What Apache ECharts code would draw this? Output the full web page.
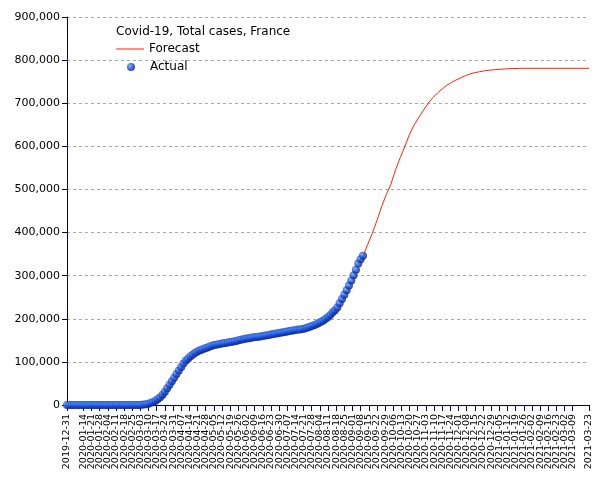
<!DOCTYPE html>
<html><head><meta charset="utf-8">
<script src="https://cdn.jsdelivr.net/npm/echarts@6/dist/echarts.min.js"></script>
<style>html,body{margin:0;padding:0;background:#fff}#c{width:605px;height:480px}</style>
</head><body><div id="c"></div>
<script>
// Weekly tick labels (day 0 = 2019-12-31, one tick every 7 days)
const tickLabels = ["2019-12-31","2020-01-07","2020-01-14","2020-01-21","2020-01-28","2020-02-04","2020-02-11","2020-02-18","2020-02-25","2020-03-03","2020-03-10","2020-03-17","2020-03-24","2020-03-31","2020-04-07","2020-04-14","2020-04-21","2020-04-28","2020-05-05","2020-05-12","2020-05-19","2020-05-26","2020-06-02","2020-06-09","2020-06-16","2020-06-23","2020-06-30","2020-07-07","2020-07-14","2020-07-21","2020-07-28","2020-08-04","2020-08-11","2020-08-18","2020-08-25","2020-09-01","2020-09-08","2020-09-15","2020-09-22","2020-09-29","2020-10-06","2020-10-13","2020-10-20","2020-10-27","2020-11-03","2020-11-10","2020-11-17","2020-11-24","2020-12-01","2020-12-08","2020-12-15","2020-12-22","2020-12-29","2021-01-05","2021-01-12","2021-01-19","2021-01-26","2021-02-02","2021-02-09","2021-02-16","2021-02-23","2021-03-02","2021-03-09","2021-03-16","2021-03-23"];

// Actual total cases (thousands), one value every 2 days starting 2019-12-31
const actualStepDays = 2;
const actualK = [
0,0,0,0,0,0,0,0,0,0,0,0,0,0,0,0,0,0,0,0,0,0,0,0,0,0,0,0,
0,0.1,0.1,0.2,0.4,0.9,1.6,3,5,7,10,14,18,24,31,39,47,55,63,72,80,88,96,103,108,113,117,121,124,127,129,131,133,135,137,139,140,141,142,143,144,145,146,147,148,149,151,152,153,154,155,156,157,158,158.5,159,160,161,162,163,164,165,166,167,168,169,170,171,172,173,174,175,175,176,177.5,179,181,183,185,187.5,190,193,196,200,204,209,215,220,226,236,246,256,266,277,289,301,314,328,338,346
];

// Forecast (days since 2019-12-31, total cases in thousands)
const forecastDays = [250,254,258,262,266,270,274,278,282,286,290,294,298,302,306,310,314,318,322,326,330,334,338,342,346,350,354,358,362,366,370,376,382,390,400,420,448];
const forecastK    = [328,344,372,398,428,460,488,512,546,574,600,628,650,667,684,700,713,724,733,742,748,754,759,764,768,771,773,775,776.5,777.5,778.5,779.5,780.3,781,781,781,781];

const yTicks = [0,100000,200000,300000,400000,500000,600000,700000,800000,900000];

const actualData = actualK.map((v,i)=>[i*actualStepDays, v*1000]);
const forecastData = forecastDays.map((d,i)=>[d, forecastK[i]*1000]);

const FONT = 'DejaVu Sans';
const navy = '#000060';
const dotColor = {type:'radial', x:0.35, y:0.35, r:0.7,
  colorStops:[{offset:0,color:'#6aa4ff'},{offset:0.45,color:'#1f55e0'},{offset:1,color:'#041a70'}]};
const legendText = {fontFamily:FONT, fontSize:12, color:'#000'};
const chart = echarts.init(document.getElementById('c'), null, {renderer:'canvas'});
chart.setOption({
  animation:false,
  backgroundColor:'#fff',
  textStyle:{fontFamily:FONT},
  title:{text:'Covid-19, Total cases, France', left:111, top:21,
    textStyle:{fontFamily:FONT, fontSize:12, fontWeight:'normal', color:'#000'}},
  legend:[
    {orient:'vertical', left:116, top:43, padding:0, itemWidth:28, itemHeight:1,
      textStyle:legendText, data:[{name:'Forecast', icon:'rect'}]},
    {orient:'vertical', left:127, top:61, padding:0, itemWidth:28, itemHeight:8,
      textStyle:legendText, data:[{name:'Actual', icon:'circle'}]}
  ],
  grid:{left:67, right:16, top:17, bottom:75},
  xAxis:{type:'value', min:0, max:(tickLabels.length-1)*7, interval:7,
    axisLine:{show:true, onZero:false, lineStyle:{color:navy, width:1}},
    axisTick:{show:true, length:6, lineStyle:{color:navy}},
    splitLine:{show:false},
    axisLabel:{rotate:90, fontSize:9.5, fontFamily:FONT, color:'#000', margin:9,
      hideOverlap:false, showMinLabel:true, showMaxLabel:true,
      formatter:v=>tickLabels[Math.round(v/7)] || ''}},
  yAxis:{type:'value', min:yTicks[0], max:yTicks[yTicks.length-1], interval:yTicks[1]-yTicks[0],
    axisLine:{show:true, lineStyle:{color:navy, width:1}},
    axisTick:{show:true, length:5, lineStyle:{color:navy}},
    splitLine:{show:true, lineStyle:{color:'#aaa', type:[3,3], width:1}},
    axisLabel:{fontSize:11, fontFamily:FONT, color:'#000', margin:7,
      formatter:v=>v.toLocaleString('en-US')}},
  series:[
    {name:'Forecast', type:'line', data:forecastData, showSymbol:false, symbol:'none',
      lineStyle:{color:'#ff2200', width:1}, itemStyle:{color:'#ff2200'}, z:1},
    {name:'Actual', type:'scatter', data:actualData, symbolSize:8, z:3,
      itemStyle:{color:dotColor}}
  ]
});
</script></body></html>
